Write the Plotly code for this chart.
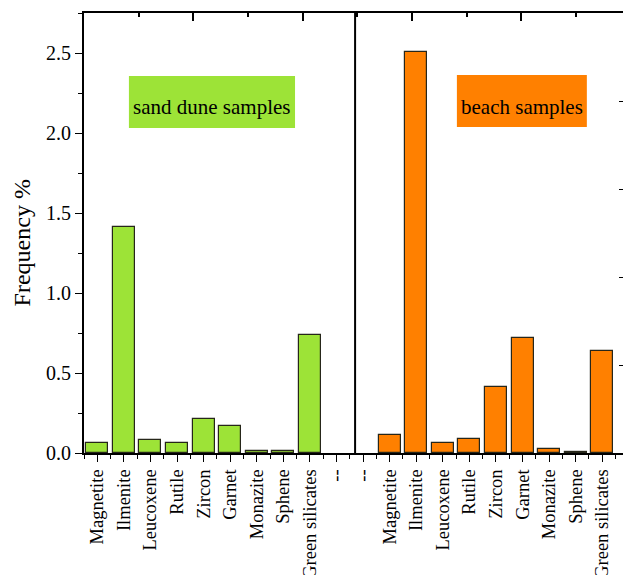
import plotly.graph_objects as go

minerals = ["Magnetite", "Ilmenite", "Leucoxene", "Rutile", "Zircon", "Garnet",
            "Monazite", "Sphene", "Green silicates"]
dune_values = [0.06, 1.41, 0.08, 0.06, 0.21, 0.17, 0.01, 0.01, 0.735]
beach_values = [0.11, 2.505, 0.065, 0.085, 0.41, 0.72, 0.025, 0.005, 0.64]
tick_labels = minerals + ["--", "--"] + minerals
y_ticks = [0.0, 0.5, 1.0, 1.5, 2.0, 2.5]

dune_x = list(range(0, 9))
beach_x = list(range(11, 20))
all_x = list(range(0, 20))

FONT = "Liberation Serif, Times New Roman, serif"
GREEN = "#9de337"
ORANGE = "#ff8000"

fig = go.Figure()
fig.add_trace(go.Bar(x=dune_x, y=dune_values, width=0.83,
                     marker=dict(color=GREEN, line=dict(color="#26261a", width=1.2)),
                     showlegend=False))
fig.add_trace(go.Bar(x=beach_x, y=beach_values, width=0.83,
                     marker=dict(color=ORANGE, line=dict(color="#26261a", width=1.2)),
                     showlegend=False))
# invisible traces to activate the top and right axes
fig.add_trace(go.Scatter(x=[84, 623], y=[0, 0], xaxis="x2", mode="lines",
                         line=dict(width=0), hoverinfo="skip", showlegend=False))
fig.add_trace(go.Scatter(x=[0], y=[0], yaxis="y2", mode="lines",
                         line=dict(width=0), hoverinfo="skip", showlegend=False))

fig.update_layout(
    width=623, height=575,
    margin=dict(l=84, r=0, t=13, b=122, autoexpand=False),
    paper_bgcolor="white", plot_bgcolor="white",
    font=dict(family=FONT, color="black"),
    bargap=0,
    xaxis=dict(
        range=[-0.5, 19.78], tickmode="array", tickvals=all_x, ticktext=tick_labels,
        tickangle=-90, tickfont=dict(size=18.5, family=FONT), automargin=False,
        showgrid=False, zeroline=False, showline=True, linecolor="black", linewidth=2,
        ticks="outside", ticklen=7, tickwidth=1.3, tickcolor="black",
        minor=dict(tickmode="linear", tick0=-0.5, dtick=1, ticks="outside",
                   ticklen=4, tickwidth=1.3, tickcolor="black", showgrid=False),
    ),
    xaxis2=dict(
        overlaying="x", side="top", range=[84, 623], tickmode="linear", automargin=False,
        tick0=84, dtick=109.3, showticklabels=False, showgrid=False, zeroline=False,
        showline=True, linecolor="black", linewidth=2,
        ticks="inside", ticklen=8, tickwidth=1.5, tickcolor="black",
        minor=dict(tickmode="linear", tick0=84, dtick=54.65, ticks="inside",
                   ticklen=4, tickwidth=1.5, tickcolor="black", showgrid=False),
    ),
    yaxis=dict(
        range=[0, 2.75], tickmode="array", tickvals=y_ticks, automargin=False,
        ticktext=[f"{v:.1f}" for v in y_ticks], tickfont=dict(size=20, family=FONT),
        showgrid=False, zeroline=False, showline=True, linecolor="black", linewidth=2,
        ticks="outside", ticklen=7, tickwidth=1.3, tickcolor="black",
        minor=dict(tickmode="linear", tick0=0, dtick=0.25, ticks="outside",
                   ticklen=4, tickwidth=1.3, tickcolor="black", showgrid=False),
    ),
    yaxis2=dict(
        overlaying="y", side="right", range=[0, 2.75], tickmode="linear", automargin=False,
        tick0=0, dtick=0.55, showticklabels=False, showgrid=False, zeroline=False,
        showline=False, ticks="inside", ticklen=4, tickwidth=1.3, tickcolor="black",
    ),
    shapes=[
        dict(type="line", xref="x", yref="paper", x0=9.7, x1=9.7, y0=0, y1=1,
             line=dict(color="black", width=2)),
        dict(type="rect", xref="x", yref="y", x0=1.19, x1=7.44, y0=2.031, y1=2.356,
             fillcolor=GREEN, line=dict(width=0), layer="above"),
        dict(type="rect", xref="x", yref="y", x0=13.53, x1=18.42, y0=2.0375, y1=2.3625,
             fillcolor=ORANGE, line=dict(width=0), layer="above"),
    ],
    annotations=[
        dict(text="sand dune samples", xref="x", yref="y", x=4.31, y=2.16,
             showarrow=False, font=dict(size=21, family=FONT, color="black"),
             xanchor="center", yanchor="middle"),
        dict(text="beach samples", xref="x", yref="y", x=15.98, y=2.16,
             showarrow=False, font=dict(size=21, family=FONT, color="black"),
             xanchor="center", yanchor="middle"),
        dict(text="Frequency %", xref="paper", yref="y", x=-0.115, y=1.31,
             textangle=-90, showarrow=False, font=dict(size=24, family=FONT, color="black"),
             xanchor="center", yanchor="middle"),
    ],
)

fig.write_html("out.html")
